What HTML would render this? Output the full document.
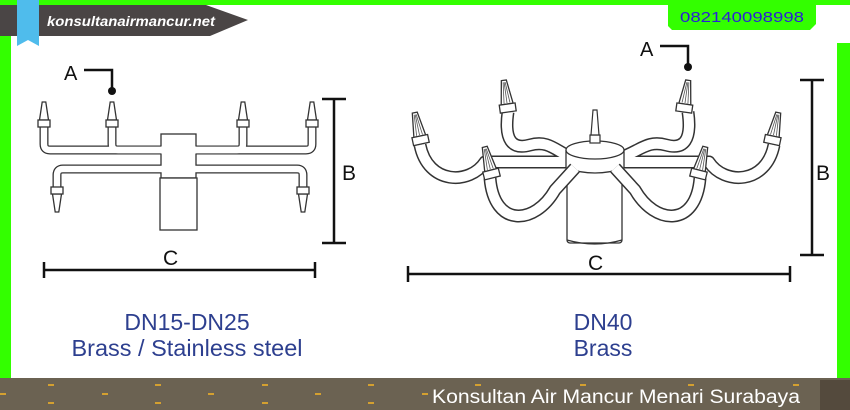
<!DOCTYPE html>
<html><head><meta charset="utf-8"><style>
html,body{margin:0;padding:0;width:850px;height:410px;overflow:hidden;background:#fff}
svg{display:block}
text{font-family:"Liberation Sans",sans-serif}
</style></head><body>
<svg width="850" height="410" viewBox="0 0 850 410" xmlns="http://www.w3.org/2000/svg">
<defs>
<g id="nz">
  <polygon points="-2.5,-30 2.5,-30 6,-6 -6,-6" fill="#fff" stroke="#333" stroke-width="1.3"/>
  <line x1="-1" y1="-28" x2="-3" y2="-7" stroke="#555" stroke-width="0.8"/>
  <line x1="1" y1="-28" x2="3" y2="-7" stroke="#555" stroke-width="0.8"/>
  <line x1="0" y1="-28" x2="0" y2="-7" stroke="#555" stroke-width="0.8"/>
  <rect x="-8" y="-6" width="16" height="8" fill="#fff" stroke="#333" stroke-width="1.3"/>
</g>
<g id="sn">
  <polygon points="-1.8,-26 1.8,-26 4.5,-8 -4.5,-8" fill="#fff" stroke="#333" stroke-width="1.3"/>
  <rect x="-6" y="-8" width="12" height="7" fill="#fff" stroke="#333" stroke-width="1.3"/>
</g>
</defs>
<rect x="0" y="0" width="850" height="410" fill="#33ff00"/>
<rect x="11" y="5" width="826" height="373" fill="#fff"/>
<rect x="780" y="5" width="70" height="38" fill="#fff"/>
<rect x="0" y="378" width="850" height="32" fill="#6b6252"/>
<rect x="820" y="380" width="30" height="30" fill="#544a3d"/>
<g fill="#d4a030">
<rect x="48" y="384" width="6" height="2"/><rect x="155" y="384" width="6" height="2"/><rect x="262" y="384" width="6" height="2"/><rect x="368" y="384" width="6" height="2"/><rect x="475" y="384" width="6" height="2"/><rect x="580" y="384" width="6" height="2"/><rect x="688" y="384" width="6" height="2"/><rect x="793" y="384" width="6" height="2"/>
<rect x="0" y="393" width="6" height="2"/><rect x="102" y="393" width="6" height="2"/><rect x="208" y="393" width="6" height="2"/><rect x="315" y="393" width="6" height="2"/><rect x="422" y="393" width="6" height="2"/>
<rect x="48" y="402" width="6" height="2"/><rect x="155" y="402" width="6" height="2"/><rect x="262" y="402" width="6" height="2"/><rect x="368" y="402" width="6" height="2"/>
</g>
<text x="432" y="403" font-size="19" fill="#fff" textLength="368" lengthAdjust="spacingAndGlyphs">Konsultan Air Mancur Menari Surabaya</text>
<polygon points="0,5 206,5 248,20 210,36 0,36" fill="#4a4545"/>
<polygon points="17,0 39,0 39,46 28,40 17,46" fill="#4fbcec"/>
<text x="47" y="26" font-size="14" font-weight="bold" font-style="italic" fill="#fff" textLength="168" lengthAdjust="spacingAndGlyphs">konsultanairmancur.net</text>
<polygon points="668,3 816,3 816,24 810,30 672,30 668,26" fill="#33ff00"/>
<text x="742" y="22" font-size="15" fill="#2b1fd6" text-anchor="middle" textLength="124" lengthAdjust="spacingAndGlyphs">082140098998</text>

<g fill="none" stroke="#333" stroke-width="9" stroke-linejoin="round" stroke-linecap="round">
<path d="M44,125 L44,144 Q44,150 50,150 L165,150"/>
<path d="M112,125 L112,144 Q112,150 118,150 L165,150"/>
<path d="M243,125 L243,144 Q243,150 237,150 L183,150"/>
<path d="M312,125 L312,144 Q312,150 306,150 L183,150"/>
<path d="M57,188 L57,175 Q57,169 63,169 L162,169"/>
<path d="M303,188 L303,175 Q303,169 297,169 L190,169"/>
</g>
<rect x="161" y="134" width="35" height="44" fill="#fff" stroke="#333" stroke-width="1.3"/>
<rect x="160" y="178" width="37" height="52" fill="#fff" stroke="#333" stroke-width="1.3"/>
<g fill="none" stroke="#fff" stroke-width="6.4" stroke-linejoin="round" stroke-linecap="round">
<path d="M44,125 L44,144 Q44,150 50,150 L165,150"/>
<path d="M112,125 L112,144 Q112,150 118,150 L165,150"/>
<path d="M243,125 L243,144 Q243,150 237,150 L183,150"/>
<path d="M312,125 L312,144 Q312,150 306,150 L183,150"/>
<path d="M57,188 L57,175 Q57,169 63,169 L162,169"/>
<path d="M303,188 L303,175 Q303,169 297,169 L190,169"/>
</g>
<line x1="161" y1="150" x2="168" y2="150" stroke="#fff" stroke-width="7"/>
<line x1="180" y1="150" x2="196" y2="150" stroke="#fff" stroke-width="7"/>
<use href="#sn" x="44" y="128"/><use href="#sn" x="112" y="128"/>
<use href="#sn" x="243" y="128"/><use href="#sn" x="312" y="128"/>
<use href="#sn" transform="translate(57,186) rotate(180)"/>
<use href="#sn" transform="translate(303,186) rotate(180)"/>
<g stroke="#111" stroke-width="2.5">
<line x1="334" y1="99" x2="334" y2="243"/><line x1="322" y1="99" x2="346" y2="99"/><line x1="322" y1="243" x2="346" y2="243"/>
<line x1="44" y1="270" x2="315" y2="270"/><line x1="44" y1="262" x2="44" y2="278"/><line x1="315" y1="262" x2="315" y2="278"/>
<polyline points="84,70 112,70 112,90" fill="none"/>
</g>
<circle cx="112" cy="91" r="4" fill="#111"/>
<text x="64" y="80" font-size="20" fill="#111">A</text>
<text x="342" y="180" font-size="21" fill="#111">B</text>
<text x="163" y="265" font-size="21" fill="#111">C</text>
<text x="187" y="330" font-size="23" fill="#2d3f8f" text-anchor="middle">DN15-DN25</text>
<text x="187" y="356" font-size="23" fill="#2d3f8f" text-anchor="middle" textLength="231" lengthAdjust="spacingAndGlyphs">Brass / Stainless steel</text>

<g id="rp" fill="none" stroke-linecap="butt" stroke-linejoin="round">
<path d="M508,112 C504,140 512,150 530,145 C548,140 555,150 572,158"/>
<path d="M688,112 C692,140 684,150 666,145 C648,140 641,150 620,158"/>
<path d="M420,145 C428,185 470,185 485,162 L570,162"/>
<path d="M774,145 C766,185 724,185 709,162 L622,162"/>
</g>
<g fill="none" stroke="#333" stroke-width="13"><use href="#rp"/></g>
<g fill="none" stroke="#fff" stroke-width="10"><use href="#rp"/></g>
<rect x="567" y="150" width="55" height="93" rx="3" fill="#fff" stroke="#333" stroke-width="1.3"/>
<path d="M567,240 Q595,248 622,240" fill="none" stroke="#333" stroke-width="1.3"/>
<path d="M566,150 L566,168 Q595,178 624,168 L624,150" fill="#fff" stroke="#333" stroke-width="1.3"/>
<ellipse cx="595" cy="150" rx="29" ry="9" fill="#fff" stroke="#333" stroke-width="1.3"/>
<rect x="590" y="135" width="10" height="8" fill="#fff" stroke="#333" stroke-width="1.2"/>
<polygon points="593,110 597,110 599,135 591,135" fill="#fff" stroke="#333" stroke-width="1.2"/>
<g id="rp2" fill="none">
<path d="M490,178 C494,228 535,225 555,190 L575,168"/>
<path d="M700,178 C696,228 655,225 635,190 L615,168"/>
</g>
<g stroke="#333" stroke-width="13" fill="none"><use href="#rp2"/></g>
<g stroke="#fff" stroke-width="10" fill="none"><use href="#rp2"/></g>
<use href="#nz" transform="translate(508,110) rotate(-8)"/>
<use href="#nz" transform="translate(684,110) rotate(8)"/>
<use href="#nz" transform="translate(421,142) rotate(-12)"/>
<use href="#nz" transform="translate(772,142) rotate(12)"/>
<use href="#nz" transform="translate(492,176) rotate(-14)"/>
<use href="#nz" transform="translate(698,176) rotate(14)"/>
<g stroke="#111" stroke-width="2.5">
<line x1="812" y1="80" x2="812" y2="255"/><line x1="800" y1="80" x2="824" y2="80"/><line x1="800" y1="255" x2="824" y2="255"/>
<line x1="408" y1="274" x2="790" y2="274"/><line x1="408" y1="266" x2="408" y2="282"/><line x1="790" y1="266" x2="790" y2="282"/>
<polyline points="660,46 688,46 688,64" fill="none"/>
</g>
<circle cx="688" cy="67" r="4" fill="#111"/>
<text x="640" y="56" font-size="20" fill="#111">A</text>
<text x="816" y="180" font-size="21" fill="#111">B</text>
<text x="588" y="270" font-size="21" fill="#111">C</text>
<text x="603" y="330" font-size="23" fill="#2d3f8f" text-anchor="middle">DN40</text>
<text x="603" y="356" font-size="23" fill="#2d3f8f" text-anchor="middle">Brass</text>
</svg>
</body></html>
